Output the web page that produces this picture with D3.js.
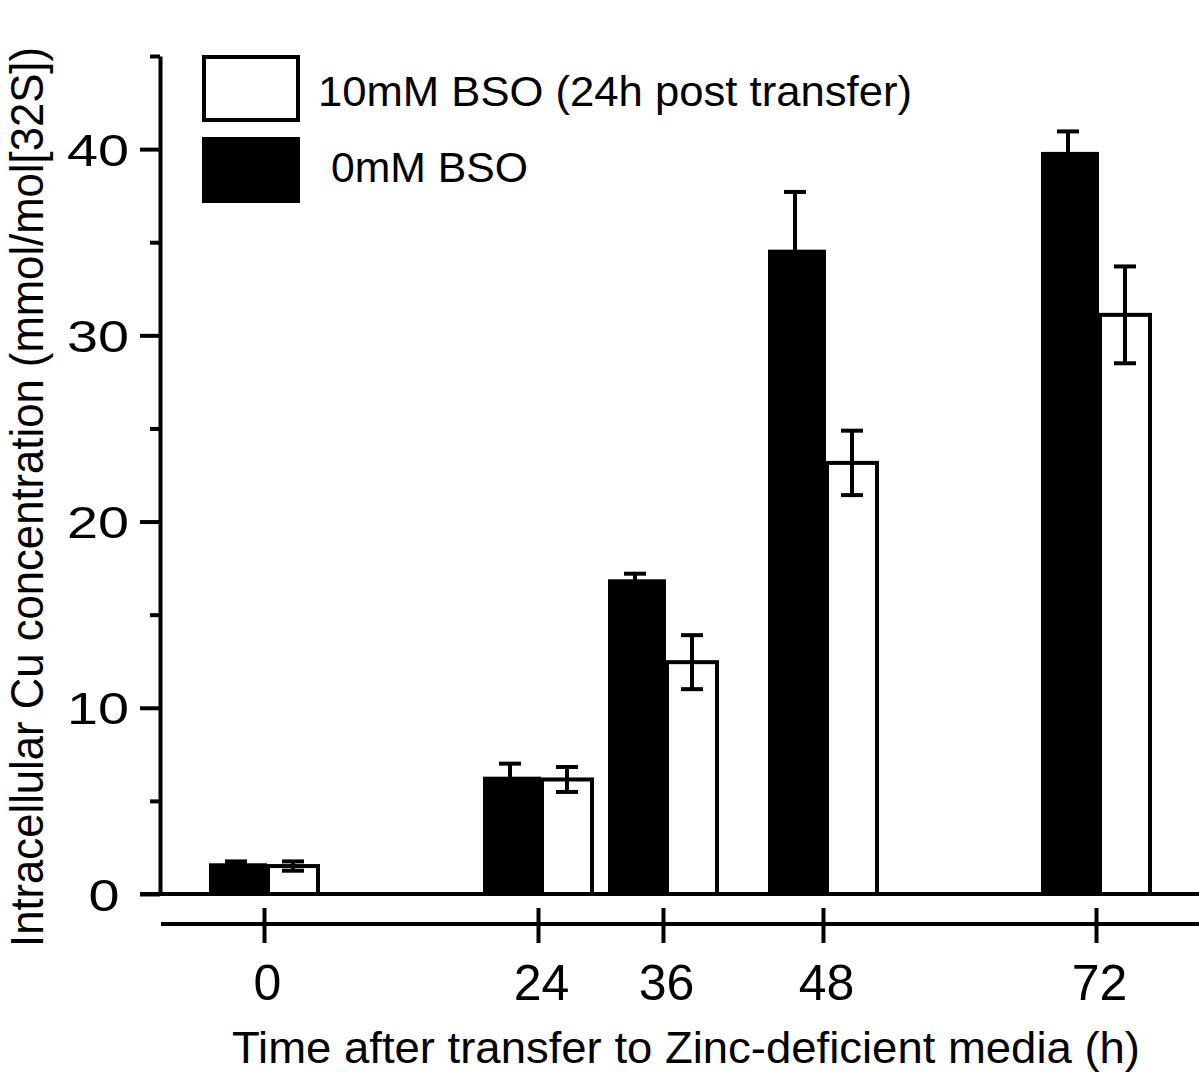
<!DOCTYPE html>
<html>
<head>
<meta charset="utf-8">
<script src="https://cdn.jsdelivr.net/npm/d3@7"></script>
<style>
  body { margin: 0; background: #fff; }
  svg { display: block; font-family: "Liberation Sans", Arial, sans-serif; }
</style>
</head>
<body>
<svg id="chart" width="1199" height="1074"></svg>
<script>
// data
const times = [0, 24, 36, 48, 72];
const seriesNames = ["0mM BSO", "10mM BSO (24h post transfer)"];
const mean0mM = [1.65, 6.3, 16.9, 34.6, 39.85];
const err0mM = [0.1, 0.7, 0.3, 3.1, 1.1];
const mean10mM = [1.5, 6.15, 12.45, 23.15, 31.1];
const err10mM = [0.25, 0.67, 1.45, 1.73, 2.6];
const yMajorTicks = [0, 10, 20, 30, 40];
const yMinorTicks = [5, 15, 25, 35, 45];
const xLabel = "Time after transfer to Zinc-deficient media (h)";
const yLabel = "Intracellular Cu concentration (mmol/mol[32S])";

const svg = d3.select("#chart");
const width = 1199, height = 1074;

const y = d3.scaleLinear().domain([0, 45]).range([894, 56]);
// tick positions on the printed axis are not evenly spaced
const x = d3.scaleLinear().domain(times).range([264, 538, 663, 823, 1096]);
const sub = d3.scaleBand().domain(seriesNames).range([-55, 57]);

const rows = [];
times.forEach((t, i) => {
  rows.push({ t, s: seriesNames[0], v: mean0mM[i], e: err0mM[i] });
  rows.push({ t, s: seriesNames[1], v: mean10mM[i], e: err10mM[i] });
});

// bars
const g = svg.append("g");
g.selectAll("rect.bar0")
  .data(rows.filter(d => d.s === seriesNames[0]))
  .enter().append("rect")
  .attr("class", "bar0")
  .attr("x", d => x(d.t) + sub(d.s))
  .attr("y", d => y(d.v))
  .attr("width", sub.bandwidth() + 2)
  .attr("height", d => y(0) - y(d.v))
  .attr("fill", "#000");

g.selectAll("rect.bar10")
  .data(rows.filter(d => d.s === seriesNames[1]))
  .enter().append("rect")
  .attr("class", "bar10")
  .attr("x", d => x(d.t) + sub(d.s) + 3)
  .attr("y", d => y(d.v))
  .attr("width", sub.bandwidth() - 6)
  .attr("height", d => y(0) - y(d.v))
  .attr("fill", "#fff")
  .attr("stroke", "#000")
  .attr("stroke-width", 4);

// error bars
const eb = g.selectAll("g.err").data(rows).enter().append("g").attr("class", "err")
  .attr("stroke", "#000").attr("stroke-width", 4);
const cx = d => x(d.t) + sub(d.s) + sub.bandwidth() / 2 + (d.s === seriesNames[1] ? 0 : -1);
eb.append("line")
  .attr("x1", cx).attr("x2", cx)
  .attr("y1", d => y(d.v + d.e)).attr("y2", d => y(d.v - d.e));
eb.append("line")
  .attr("x1", d => cx(d) - 11).attr("x2", d => cx(d) + 11)
  .attr("y1", d => y(d.v + d.e)).attr("y2", d => y(d.v + d.e));
eb.append("line")
  .attr("x1", d => cx(d) - 11).attr("x2", d => cx(d) + 11)
  .attr("y1", d => y(d.v - d.e)).attr("y2", d => y(d.v - d.e));

// baseline at zero
svg.append("line")
  .attr("x1", 140).attr("x2", width)
  .attr("y1", y(0)).attr("y2", y(0))
  .attr("stroke", "#000").attr("stroke-width", 4);

// y axis
const yAxisG = svg.append("g").attr("transform", "translate(160,0)");
yAxisG.call(d3.axisLeft(y).tickValues(yMajorTicks).tickSize(20).tickSizeOuter(0));
yAxisG.select(".domain").attr("stroke-width", 4);
yAxisG.selectAll(".tick line").attr("stroke-width", 4);
yAxisG.selectAll(".tick text")
  .attr("font-size", 45)
  .attr("font-family", "Liberation Sans, Arial, sans-serif")
  .attr("fill", "#000")
  .attr("text-anchor", "middle")
  .attr("x", d => d === 0 ? -56 : -62)
  .attr("dy", "0.36em")
  .attr("textLength", d => String(d).length * 31)
  .attr("lengthAdjust", "spacingAndGlyphs");

const yMinorG = svg.append("g").attr("transform", "translate(160,0)");
yMinorG.call(d3.axisLeft(y).tickValues(yMinorTicks).tickSize(10).tickSizeOuter(0).tickFormat(""));
yMinorG.select(".domain").remove();
yMinorG.selectAll(".tick line").attr("stroke-width", 4);

// x axis (separate line below the bars)
const xAxisG = svg.append("g").attr("transform", "translate(0,924)");
xAxisG.call(d3.axisBottom(x).tickValues(times).tickSize(19).tickSizeOuter(0));
xAxisG.select(".domain").remove();
xAxisG.append("line")
  .attr("x1", 161).attr("x2", width).attr("y1", 0).attr("y2", 0)
  .attr("stroke", "#000").attr("stroke-width", 4);
xAxisG.selectAll(".tick line").attr("y1", -16).attr("stroke-width", 4);
xAxisG.selectAll(".tick text")
  .attr("font-size", 50)
  .attr("font-family", "Liberation Sans, Arial, sans-serif")
  .attr("fill", "#000")
  .attr("x", 3)
  .attr("y", 76)
  .attr("dy", 0);

// axis titles
svg.append("text")
  .attr("x", 232).attr("y", 1063)
  .attr("font-size", 44)
  .attr("textLength", 908)
  .attr("lengthAdjust", "spacingAndGlyphs")
  .text(xLabel);

svg.append("text")
  .attr("transform", "translate(43,497) rotate(-90)")
  .attr("text-anchor", "middle")
  .attr("font-size", 46)
  .attr("textLength", 900)
  .attr("lengthAdjust", "spacingAndGlyphs")
  .text(yLabel);

// legend
const legend = svg.append("g");
legend.append("rect")
  .attr("x", 204).attr("y", 57).attr("width", 94).attr("height", 63)
  .attr("fill", "#fff").attr("stroke", "#000").attr("stroke-width", 4);
legend.append("text")
  .attr("x", 318).attr("y", 106)
  .attr("font-size", 43)
  .attr("textLength", 594)
  .attr("lengthAdjust", "spacingAndGlyphs")
  .text(seriesNames[1]);
legend.append("rect")
  .attr("x", 202).attr("y", 137).attr("width", 98).attr("height", 66)
  .attr("fill", "#000");
legend.append("text")
  .attr("x", 331).attr("y", 182)
  .attr("font-size", 43)
  .attr("textLength", 197)
  .attr("lengthAdjust", "spacingAndGlyphs")
  .text(seriesNames[0]);
</script>
</body>
</html>
